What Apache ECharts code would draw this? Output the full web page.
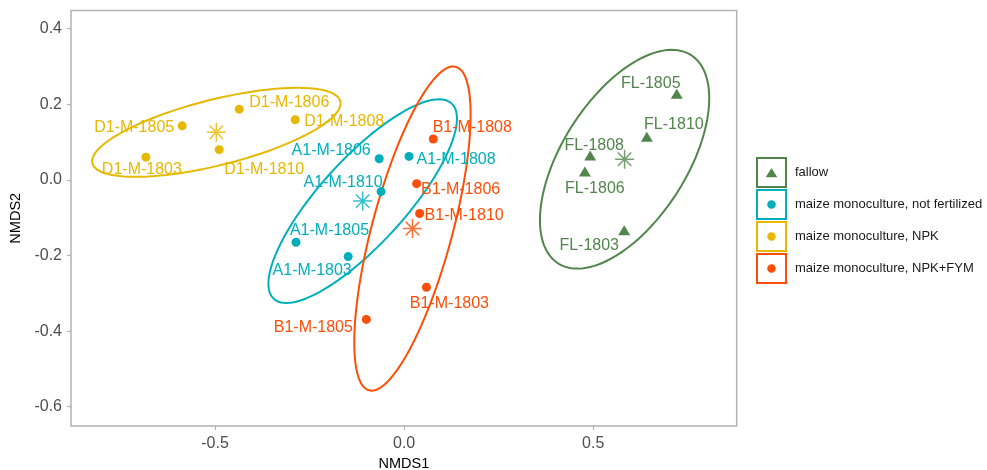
<!DOCTYPE html>
<html>
<head>
<meta charset="utf-8">
<script src="https://cdn.jsdelivr.net/npm/echarts@6/dist/echarts.min.js"></script>
<style>
html,body{margin:0;padding:0;background:#fff;}
#chart{width:987px;height:470px;}
</style>
</head>
<body>
<div id="chart"></div>
<script>
// ---------- data ----------
const groups = ['fallow', 'maize monoculture, not fertilized', 'maize monoculture, NPK', 'maize monoculture, NPK+FYM'];

const fallowNames = ['FL-1803', 'FL-1805', 'FL-1806', 'FL-1808', 'FL-1810'];
const fallowX = [0.582, 0.721, 0.478, 0.492, 0.642];
const fallowY = [-0.1376, 0.2235, 0.0177, 0.0598, 0.1095];

const notFertNames = ['A1-M-1803', 'A1-M-1805', 'A1-M-1806', 'A1-M-1808', 'A1-M-1810'];
const notFertX = [-0.148, -0.286, -0.066, 0.013, -0.061];
const notFertY = [-0.203, -0.165, 0.056, 0.062, -0.031];

const npkNames = ['D1-M-1803', 'D1-M-1805', 'D1-M-1806', 'D1-M-1808', 'D1-M-1810'];
const npkX = [-0.683, -0.587, -0.436, -0.288, -0.489];
const npkY = [0.060, 0.143, 0.187, 0.159, 0.080];

const npkFymNames = ['B1-M-1803', 'B1-M-1805', 'B1-M-1806', 'B1-M-1808', 'B1-M-1810'];
const npkFymX = [0.059, -0.100, 0.033, 0.077, 0.041];
const npkFymY = [-0.284, -0.369, -0.010, 0.108, -0.089];

const xTicks = [-0.5, 0, 0.5];
const yTicks = [-0.6, -0.4, -0.2, 0, 0.2, 0.4];

// ---------- layout / style (not data) ----------
const colors = ['#52854C', '#00AFBB', '#E7B800', '#FC4E07'];
const FONT = 'Liberation Sans, Arial, Helvetica, sans-serif';
const labelOffsets = {
  'D1-M-1805': [-48, 0], 'D1-M-1803': [-4, 10], 'D1-M-1810': [45, 18], 'D1-M-1806': [50, -8.5], 'D1-M-1808': [49, 0],
  'A1-M-1806': [-48, -10], 'A1-M-1808': [47, 1], 'A1-M-1810': [-38, -11], 'A1-M-1805': [33.5, -13.5], 'A1-M-1803': [-36, 12],
  'B1-M-1808': [39, -13], 'B1-M-1806': [44, 4], 'B1-M-1810': [44.5, 0], 'B1-M-1803': [23, 14.7], 'B1-M-1805': [-53, 6.5],
  'FL-1805': [-26, -12], 'FL-1810': [27, -14.7], 'FL-1808': [4, -12.2], 'FL-1806': [10, 14.7], 'FL-1803': [-35, 13]
};
const LABEL_DY = 2; // cap-height centring correction

const groupData = [
  {names: fallowNames, xs: fallowX, ys: fallowY},
  {names: notFertNames, xs: notFertX, ys: notFertY},
  {names: npkNames, xs: npkX, ys: npkY},
  {names: npkFymNames, xs: npkFymX, ys: npkFymY}
];

function mean(a){ return a.reduce((s,v)=>s+v,0)/a.length; }

// 95% normal-theory ellipse from the group covariance
function ellipse(xs, ys){
  const n = xs.length, mx = mean(xs), my = mean(ys);
  let sxx=0, syy=0, sxy=0;
  for (let i=0;i<n;i++){ const dx=xs[i]-mx, dy=ys[i]-my; sxx+=dx*dx; syy+=dy*dy; sxy+=dx*dy; }
  sxx/=n; syy/=n; sxy/=n;
  const k = Math.sqrt(5.991464547);
  const a = Math.sqrt(sxx), b = sxy/a, c = Math.sqrt(Math.max(syy-b*b,0));
  const pts = [];
  for (let i=0;i<=120;i++){
    const t = 2*Math.PI*i/120;
    pts.push([mx + k*a*Math.cos(t), my + k*(b*Math.cos(t) + c*Math.sin(t))]);
  }
  return pts;
}

const starPath = 'path://M0,-10L0,10M-10,0L10,0M-7.07,-7.07L7.07,7.07M-7.07,7.07L7.07,-7.07';
const frame = 'M0,0L31,0L31,31L0,31ZM2,2L2,29L29,29L29,2Z';
const legendIcons = [
  'path://' + frame + 'M15.5,11L21.3,20.3L9.7,20.3Z',
  'path://' + frame + 'M11.2,15.5A4.3,4.3,0,1,0,19.8,15.5A4.3,4.3,0,1,0,11.2,15.5Z',
  'path://' + frame + 'M11.2,15.5A4.3,4.3,0,1,0,19.8,15.5A4.3,4.3,0,1,0,11.2,15.5Z',
  'path://' + frame + 'M11.2,15.5A4.3,4.3,0,1,0,19.8,15.5A4.3,4.3,0,1,0,11.2,15.5Z'
];

const series = [];
groupData.forEach((g, gi) => {
  const col = colors[gi];
  series.push({
    name: groups[gi] + ' ellipse', type: 'line', data: ellipse(g.xs, g.ys),
    showSymbol: false, symbol: 'none', smooth: false, silent: true,
    lineStyle: {color: col, width: 2}, itemStyle: {color: col}, z: 3
  });
  series.push({
    name: groups[gi], type: 'scatter',
    symbol: gi === 0 ? 'triangle' : 'circle',
    symbolSize: gi === 0 ? [12, 10] : 9,
    symbolOffset: gi === 0 ? [0, -1.67] : [0, 0],
    itemStyle: {color: col, opacity: 1},
    emphasis: {disabled: true},
    label: {show: true, position: 'inside', formatter: '{b}', color: col, fontSize: 16, fontFamily: FONT, textBorderWidth: 0},
    data: g.names.map((nm, i) => {
      const o = labelOffsets[nm];
      return {name: nm, value: [g.xs[i], g.ys[i]], label: {offset: [o[0], o[1] + LABEL_DY]}};
    }),
    z: 4
  });
  series.push({
    name: groups[gi] + ' centroid', type: 'scatter', symbol: starPath, symbolSize: 19,
    itemStyle: {color: 'none', borderColor: col, borderWidth: 1.5},
    emphasis: {disabled: true}, silent: true,
    data: [[mean(g.xs), mean(g.ys)]], z: 4
  });
});

const chart = echarts.init(document.getElementById('chart'), null, {renderer: 'canvas'});
chart.setOption({
  animation: false,
  backgroundColor: '#ffffff',
  textStyle: {fontFamily: FONT},
  grid: {left: 71, top: 10.5, right: 250.3, bottom: 44, show: true, borderColor: '#b3b3b3', borderWidth: 1.5, backgroundColor: '#fff', containLabel: false, outerBoundsMode: 'none'},
  legend: {
    orient: 'vertical', left: 751, top: 152, itemWidth: 31, itemHeight: 31, itemGap: 1, selectedMode: false,
    textStyle: {fontSize: 13, color: '#1a1a1a', fontFamily: FONT, padding: [0, 0, 0, 3]},
    data: groups.map((g, i) => ({name: g, icon: legendIcons[i]}))
  },
  xAxis: {
    type: 'value', min: -0.881, max: 0.8795,
    name: 'NMDS1', nameLocation: 'middle', nameGap: 27,
    nameTextStyle: {fontSize: 14.5, color: '#000', fontFamily: FONT},
    axisLine: {show: false, onZero: false}, splitLine: {show: false},
    axisTick: {show: true, customValues: xTicks, length: 4, lineStyle: {color: '#b3b3b3', width: 1.2}},
    axisLabel: {customValues: xTicks, formatter: v => v.toFixed(1), fontSize: 16, color: '#4d4d4d', margin: 10, fontFamily: FONT}
  },
  yAxis: {
    type: 'value', min: -0.651, max: 0.448,
    name: 'NMDS2', nameLocation: 'middle', nameGap: 39,
    nameTextStyle: {fontSize: 14.5, color: '#000', fontFamily: FONT},
    axisLine: {show: false, onZero: false}, splitLine: {show: false},
    axisTick: {show: true, customValues: yTicks, length: 4, lineStyle: {color: '#b3b3b3', width: 1.2}},
    axisLabel: {customValues: yTicks, formatter: v => v.toFixed(1), fontSize: 16, color: '#4d4d4d', margin: 9, padding: [3, 0, 0, 0], fontFamily: FONT}
  },
  series: series
});
</script>
</body>
</html>
